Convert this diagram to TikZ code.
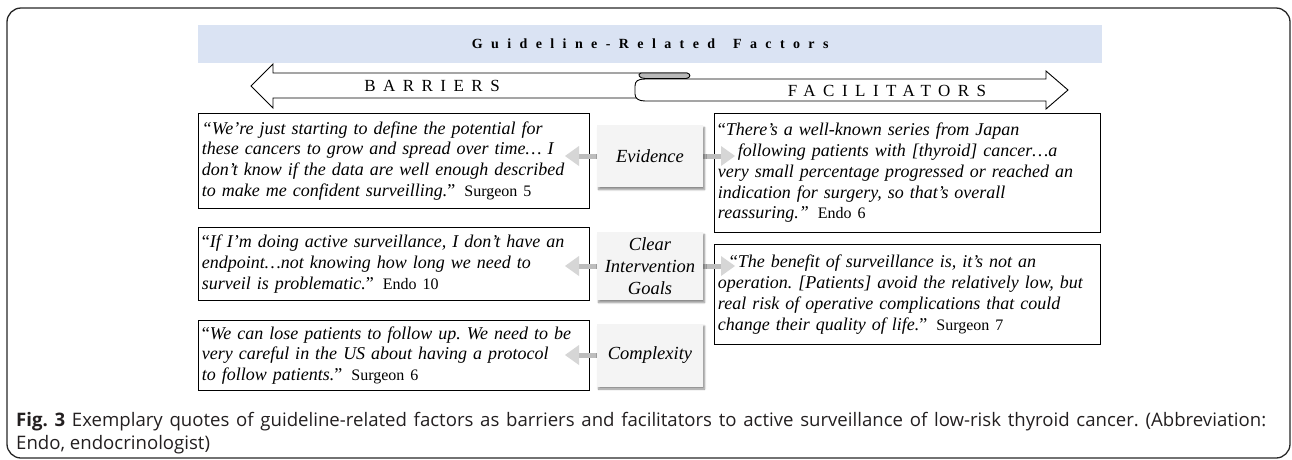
\documentclass[tikz,border=0pt]{standalone}
\usepackage{fontspec}
\setmainfont{Liberation Serif}
\newfontfamily\capfont{Open Sans}
\newfontfamily\headfont[LetterSpace=60]{Liberation Serif}
\newfontfamily\sidefont[LetterSpace=44]{Liberation Serif}
\usetikzlibrary{shadows.blur}
\frenchspacing

\definecolor{bandblue}{HTML}{DAE3F3}
\definecolor{headgray}{HTML}{D6D6D6}
\definecolor{shaftgray}{HTML}{BDBDBD}
\definecolor{captext}{HTML}{231F20}

\newcommand\who[1]{\hspace{9pt}{\upshape\fontsize{16}{20.8}\selectfont #1}}

\tikzset{
  quote/.style={draw=black, line width=0.9pt, fill=white, anchor=north west,
    inner xsep=3.5pt, inner ysep=0pt, align=left,
    font=\fontsize{18}{20.8}\selectfont},
  factor/.style={fill=gray!9, minimum width=106pt, minimum height=62pt,
    inner sep=0pt, align=center, font=\itshape\fontsize{18.5}{22}\selectfont,
    blur shadow={shadow xshift=1.5pt, shadow yshift=-2.5pt, shadow opacity=45,
      shadow blur steps=6}},
  ribbon/.style={draw=black, line width=0.9pt, fill=white, line join=miter},
  pics/grayhead/.style={code={
    \fill[shaftgray] (12,-2.5) rectangle (34,2.5);
    \fill[headgray] (0,0) -- (14,-10) -- (14,10) -- cycle;}},
}

\begin{document}
\begin{tikzpicture}[x=1pt, y=-1pt]
\useasboundingbox (0,0) rectangle (1292,459);

% outer frame
\draw[line width=1.3pt, rounded corners=14pt, draw=black!85] (7,8) rectangle (1290,458);

% title band
\node[fill=bandblue, minimum width=904pt, minimum height=38pt, inner sep=0pt,
  anchor=north west] (band) at (198,25) {};
\node[font=\headfont\bfseries\fontsize{14}{14}\selectfont] (title) at (band.center)
  {Guideline-Related\hspace{6pt} Factors};

% barriers ribbon pointing left
\draw[ribbon] (687,73) -- (273,73) -- (273,64) -- (251,86) -- (273,108) -- (273,98)
  -- (687,98) -- cycle;
\draw[line width=0.9pt, fill=gray!55] (641,73) -- (687,73)
  .. controls (691,73.5) and (691,78) .. (686,78.5) -- (645,78.5)
  .. controls (639,78.5) and (637,74) .. (641,73) -- cycle;
% facilitators ribbon pointing right
\draw[ribbon] (645,79) -- (1046,79) -- (1046,71) -- (1068,90) -- (1046,109)
  -- (1046,101) -- (645,101) .. controls (638,101) and (635,98) .. (635,94)
  -- (635,86) .. controls (635,81) and (638,79) .. (645,79) -- cycle;
\node[font=\sidefont\fontsize{17}{17}\selectfont] (barriers) at (432,86) {BARRIERS};
\node[font=\sidefont\fontsize{17}{17}\selectfont] (facil) at (887,91) {FACILITATORS};

% barrier quotes
\node[quote, text width=384pt, minimum height=95pt] (l1) at (198,113)
  {\itshape “We’re just starting to define the potential for\\
   these cancers to grow and spread over time…~I\\
   don’t know if the data are well enough described\\
   to make me confident surveilling.\upshape”\who{Surgeon 5}};
\node[quote, text width=384pt, minimum height=73pt] (l2) at (198,227)
  {\upshape“\itshape If I’m doing active surveillance, I don’t have an\\
   endpoint…not knowing how long we need to\\
   surveil is problematic.\upshape”\who{Endo 10}};
\node[quote, text width=384pt, minimum height=70pt] (l3) at (198,320)
  {\upshape“\itshape We can lose patients to follow up. We need to be\\
   very careful in the US about having a protocol\\
   to follow patients.\upshape”\who{Surgeon 6}};

% facilitator quotes
\node[quote, text width=379pt, minimum height=119pt] (r1) at (714,113)
  {\upshape“\itshape There’s a well-known series from Japan\\
   \hspace*{20pt}following patients with [thyroid] cancer…a\\
   very small percentage progressed or reached an\\
   indication for surgery, so that’s overall\\
   reassuring.”\who{Endo 6}};
\node[quote, text width=379pt, minimum height=100pt] (r2) at (714,244)
  {\hspace*{12pt}\upshape“\itshape The benefit of surveillance is, it’s not an\\
   operation. [Patients] avoid the relatively low, but\\
   real risk of operative complications that could\\
   change their quality of life.\upshape”\who{Surgeon 7}};

% gray pointers from the factor boxes
\pic at (565,156) {grayhead};
\pic[xscale=-1] at (735,156) {grayhead};
\pic at (565,266) {grayhead};
\pic[xscale=-1] at (735,266) {grayhead};
\pic at (565,355) {grayhead};

% factor boxes
\node[factor] (ev) at (650,156) {Evidence};
\node[factor, minimum height=68pt] (goals) at (650,266) {Clear\\Intervention\\Goals};
\node[factor, minimum height=63pt] (cx) at (650,355) {Complexity};

% caption, first line set full measure
\node[anchor=base west, align=left, inner sep=0pt, text=captext,
  font=\capfont\fontsize{18.6}{22.5}\selectfont] (cap) at (16,449)
  {\makebox[1250pt][s]{\textbf{Fig. 3} Exemplary quotes of guideline-related factors as barriers and facilitators to active surveillance of low-risk thyroid cancer. (Abbreviation:}\\
   Endo, endocrinologist)};
\end{tikzpicture}
\end{document}
